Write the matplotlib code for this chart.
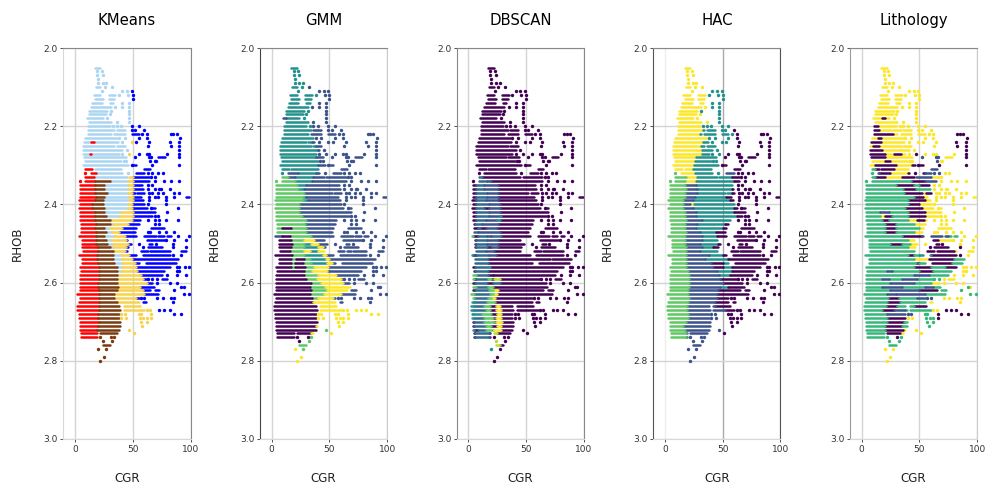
import matplotlib
matplotlib.use('Agg')
import matplotlib.pyplot as plt

# RHOB comes in steps of 0.01, every row of the crossplot is listed here
rhob = [2.05, 2.06, 2.07, 2.08, 2.09, 2.10, 2.11, 2.12, 2.13, 2.14,
        2.15, 2.16, 2.17, 2.18, 2.19, 2.20, 2.21, 2.22, 2.23, 2.24,
        2.25, 2.26, 2.27, 2.28, 2.29, 2.30, 2.31, 2.32, 2.33, 2.34,
        2.35, 2.36, 2.37, 2.38, 2.39, 2.40, 2.41, 2.42, 2.43, 2.44,
        2.45, 2.46, 2.47, 2.48, 2.49, 2.50, 2.51, 2.52, 2.53, 2.54,
        2.55, 2.56, 2.57, 2.58, 2.59, 2.60, 2.61, 2.62, 2.63, 2.64,
        2.65, 2.66, 2.67, 2.68, 2.69, 2.70, 2.71, 2.72, 2.73, 2.74,
        2.75, 2.76, 2.77, 2.78, 2.79, 2.80]

# CGR read per row: a number is one sample, a tuple is a run of touching samples
cgr = [
    [(17, 22)], [19, 23], [19, 24], [20], [20, 24, 27],
    [(18, 22), 26, 32], [23, 41, 45, 49], [(16, 22), (29, 35), 38, 46, 50], [(17, 24), (29, 34), 50], [(15, 23), (30, 33), 41, 47],
    [(14, 31), 35, 41, 47], [(12, 28), 31, 47], [(12, 27), 30, 47], [(10, 24), 28, 47], [(12, 31), 36, 47],
    [(11, 30), 33, 36, 40, 49, 55], [(11, 34), (36, 43), 49, 52, 60], [(11, 31), (34, 43), (49, 55), 58, 62, 83, 85, 88], [(9, 36), 38, 43, 55, 62, 91], [(8, 30), (31, 37), 41, 49, 53, 64, 82, 90],
    [(7, 34), (36, 43), 63, 83, 90], [(7, 41), 45, 90], [(7, 38), 41, 47, 55, 62, 64, 80, 90], [(8, 33), (34, 44), 52, 64, 66, (72, 78), 90], [(9, 40), 42, 44, 65, 69, 70],
    [(7, 46), 49, (50, 53), 67, 90], [(9, 15), (17, 40), (60, 65)], [9, (14, 41), 46, (53, 60), 63, 67, 72, 76], [(9, 45), (47, 64), 66, 69], [4, (9, 64), 69, 77, 83, 90],
    [(4, 58), 63, 67], [(4, 59), 63, 69, 73, 74, 82], [(4, 52), (54, 60), 64, 67, 72, 76, 86, 90], [(4, 57), 64, 69, 72, 79, 86, (96, 99)], [(3, 59), 64, 79],
    [(4, 60), 63, 79], [(3, 62), 66, (67, 69), 89], [(4, 64), (65, 69), 80], [(4, 67), 69, 72], [(4, 56), 63, 69, 73, 79, 89],
    [(5, 55), 69, 73], [(5, 53), (66, 77)], [(5, 52), 63, 65, 73, 79, 86], [(3, 53), (60, 70), (72, 77), (80, 83), 89, 99], [(6, 45), (62, 78), 79, 86, 96],
    [(6, 48), 55, (64, 67), 70, 85], [(6, 46), 59, (63, 75), 85, 96], [(7, 45), (57, 63), (65, 69), (70, 82), (92, 96)], [(3, 53), (59, 82), 85, 92], [(6, 71), (72, 89)],
    [(6, 55), (61, 87)], [(4, 82), 88, 90, 95, 99], [(5, 77), 88, 90], [(4, 75), 80, 88, 96], [(4, 62), 63, 67, 71, (75, 80)],
    [(4, 67), 71, 82, 88], [(4, 68), 92, 94], [(4, 65), (69, 73), 86], [(2, 72), 94, 99], [(4, 55), 57, 60, 71, 76, 83, 86],
    [(3, 55), (59, 61), 85], [(2, 38), (42, 56)], [(2, 39), (42, 60), 62, 65, 73, 77, 82], [(3, 38), 40, 43, 55, 57, 66, 86, 92], [(3, 38), 40, 44, 56, 59, 62, 66],
    [(4, 39), 57, 62], [(4, 39), 58], [(4, 38), 47], [(5, 19), (22, 36), 51], [(5, 19), 22, 31, 34],
    [24, 32], [(24, 30)], [20, 27], [], [25], [22],
]

# Cluster of each row as "end-of-band + label", left to right
kmeans_bands = [
    '48l 100b', '48l 100b', '48l 100b', '48l 100b', '48l 100b',
    '48l 100b', '48l 100b', '48l 100b', '48l 100b', '48l 100b',
    '48l 100b', '48l 100b', '48l 100b', '48l 100b', '48l 100b',
    '48l 100b', '48l 100b', '48l 100b', '48l 100b', '14l 16r 48l 50g 100b',
    '48l 100b', '48l 100b', '13l 14r 46l 48g 100b', '48l 100b', '48l 100b',
    '46l 48g 100b', '15r 48l 100b', '18r 48l 100b', '16r 46l 50g 100b', '17r 30n 46l 50g 100b',
    '17r 25n 46l 50g 100b', '17r 25n 46l 50g 100b', '17r 28n 46l 49g 100b', '18r 25n 47l 50g 100b', '17r 24n 47l 50g 100b',
    '15r 24n 46l 49g 100b', '15r 25n 46l 49g 100b', '17r 25n 40l 50g 100b', '17r 27n 38l 50g 100b', '17r 30n 31l 49g 100b',
    '18r 30n 33l 46g 100b', '17r 25n 30l 41g 100b', '18r 27n 32l 38g 100b', '18r 25n 34l 43g 100b', '18r 27n 31l 44g 100b',
    '18r 28n 33l 46g 100b', '20r 30n 33l 44g 100b', '20r 33n 34l 43g 100b', '19r 33n 40l 47g 100b', '19r 33n 41l 49g 100b',
    '20r 34n 41l 52g 100b', '21r 36n 41l 53g 100b', '21r 36n 40l 54g 100b', '21r 36n 38l 57g 100b', '21r 36n 59g 100b',
    '20r 36n 62g 100b', '20r 37n 56g 100b', '21r 36n 59g 100b', '21r 34n 60g 100b', '21r 34n 53g 100b',
    '21r 36n 56g 100b', '21r 38n 100g', '21r 39n 66g 100b', '20r 38n 68g 100b', '20r 38n 100g',
    '21r 39n 100g', '20r 39n 100g', '19r 39n 100g', '19r 36n 100g', '19r 100n',
    '100n', '100n', '100n', '100n', '100n', '100n',
]

gmm_bands = [
    '30t 100v', '30t 100v', '30t 100v', '30t 100v', '30t 100v',
    '30t 100v', '30t 100v', '40t 100v', '35t 100v', '35t 100v',
    '33t 100v', '31t 100v', '30t 100v', '12v 28t 100v', '33t 100v',
    '33t 100v', '34t 100v', '34t 100v', '36t 100v', '35t 100v',
    '38t 100v', '40t 100v', '40t 100v', '38t 100v', '40t 100v',
    '40t 100v', '40t 100v', '12t 23v 38t 100v', '14e 20v 36t 100v', '20e 35t 100v',
    '22e 30t 100v', '23e 28t 100v', '28e 100v', '27e 30t 100v', '27e 31t 100v',
    '24e 100v', '24e 100v', '24e 100v', '26e 100v', '30e 100v',
    '29e 100v', '9e 17p 30e 100v', '30e 100v', '9v 16p 34e 100v', '17p 28e 37y 100v',
    '18p 28e 34t 40y 100v', '17p 28e 40t 44y 100v', '16p 28e 33y 40t 46y 100v', '3e 18p 28e 44t 47y 100v', '17p 21e 28p 33e 47t 50y 100v',
    '17p 20e 27p 34e 48t 52y 100v', '17p 20e 29p 37e 49y 100v', '28p 35e 48y 100v', '28p 40e 56y 100v', '30p 39e 60y 100v',
    '34p 43e 62y 100v', '33p 46e 68y 100v', '34p 48e 68y 100v', '33p 45e 60y 100v', '35p 40e 53y 100v',
    '36p 56y 100v', '38p 100y', '39p 100y', '38p 100y', '38p 100y',
    '39p 100y', '38p 100y', '39p 48e 100y', '34p 100y', '32p 100e',
    '25p 100e', '100e', '21y 100e', '100e', '100y', '100y',
]

dbscan_bands = [
    '100p', '100p', '100p', '100p', '100p', '100p', '100p', '100p', '100p', '100p',
    '100p', '100p', '100p', '100p', '100p', '100p', '100p', '100p', '100p', '100p',
    '100p', '100p', '100p', '100p', '100p', '100p', '100p', '100p', '7p 12s 100p', '7p 16s 20v 100p',
    '7p 14s 26v 100p', '7p 14s 26v 100p', '7p 16s 26v 100p', '7p 16s 26v 100p', '7p 15s 26v 100p',
    '7p 18s 27v 100p', '7p 14s 18p 27v 100p', '7p 18s 27v 100p', '7p 18s 27v 28t 100p', '7p 15s 25v 27t 100p',
    '6p 12s 26v 100p', '8p 10s 15p 25v 100p', '8s 27v 100p', '4e 8p 16s 20v 28s 100p', '7p 16s 26v 100p',
    '7p 16s 26v 100p', '7p 16s 20p 26v 100p', '7p 15s 22v 100p', '4t 7p 18s 24v 100p', '6p 17s 100p',
    '6p 17s 100p', '6p 17s 19t 100p', '6p 17s 100p', '7e 17s 21p 100p', '5e 7p 17s 20e 22p 27f 100p',
    '6p 16s 21p 27s 100p', '7e 17s 21e 100p', '6p 18s 23e 26y 100p', '5e 19s 23e 25y 100p', '5e 17s 21e 23y 100p',
    '5t 16s 23e 100p', '5t 14s 19e 24p 27y 100p', '4t 15s 19e 24p 28y 100p', '4t 12t 20e 25p 28y 100p', '5t 14s 21e 24p 28y 100p',
    '5p 14s 22e 24p 29y 100p', '5p 15s 20e 25p 28y 100p', '5t 8p 15s 22e 28y 100p', '6p 18s 22p 25f 100p', '6p 18s 22p 24f 100p',
    '26f 100p', '27f 100p', '22t 100p', '100p', '100p', '100p',
]

hac_bands = [
    '100y', '100y', '100y', '100y', '100y',
    '100y', '30y 100t', '36y 100t', '35y 100t', '35y 100t',
    '35y 100t', '30y 100t', '30y 100t', '30y 100t', '37y 100t',
    '30y 58t 100p', '33y 58t 100p', '30y 58t 100p', '36y 60t 100p', '33y 58t 100p',
    '31y 58t 100p', '32y 50t 100p', '32y 52t 100p', '27y 45t 100p', '26y 50t 100p',
    '25y 48t 100p', '24y 50t 100p', '11e 26y 53t 60v 100p', '18e 28y 58t 100p', '17e 27y 60t 100p',
    '17e 27v 58t 100p', '18e 28v 58t 100p', '17e 28v 58t 100p', '17e 26v 53t 100p', '16e 24v 56t 100p',
    '16e 22v 25y 60t 100p', '16e 24v 60t 100p', '17e 27v 60t 100p', '17e 27v 62t 100p', '18e 32v 56t 100p',
    '17e 28v 52t 100p', '17e 27v 50t 100p', '18e 30v 44t 100p', '17e 32v 45t 100p', '17e 32v 46t 100p',
    '17e 30v 46t 100p', '18e 32v 42t 100p', '18e 30v 45t 47v 100p', '18e 38v 50t 100p', '18e 35v 55t 100p',
    '18e 40v 50p 58t 100p', '18e 42v 50p 58t 100p', '20e 45v 58t 100p', '21e 47v 56t 100p', '21e 48v 100p',
    '21e 50v 100p', '21e 48v 55t 100p', '20e 46v 100p', '20e 45v 100p', '21e 45v 100p',
    '20e 43v 100p', '19e 43v 100p', '19e 52v 100p', '20e 47v 100p', '20e 45v 100p',
    '18e 40v 100p', '16e 40v 100p', '17e 47v 100p', '18e 40v 100p', '18e 100v',
    '100v', '100v', '100v', '100v', '100v', '100v',
]

litho_bands = [
    '100y', '100y', '100y', '100y', '100y',
    '100y', '100y', '100y', '100y', '100y',
    '100y', '100y', '100y', '18y 20p 100y', '100y',
    '14p 100y', '15p 100y', '27p 80y 100p', '14y 17p 85y 100p', '17p 80y 100p',
    '10y 15p 80y 100p', '18p 46y 48p 85y 100p', '20p 28y 34p 44y 47p 80y 100p', '20p 46y 70v 85y 100p', '20y 25p 44y 55p 68v 100y',
    '12y 30p 44y 100p', '12h 28p 40y 55p 70v 100y', '10h 15v 25p 40y 55p 70v 100y', '12h 20p 35y 45p 60v 100y', '43h 55p 65v 100y',
    '30h 45p 50h 60p 100y', '36h 47p 60h 100y', '37h 52p 56y 60p 100y', '45h 53p 100y', '40h 55p 100y',
    '40h 50p 100y', '38h 52p 100y', '16h 24v 40h 55p 100y', '16h 20y 26p 40h 55p 100y', '18h 24p 40h 48y 54p 100y',
    '20h 30p 45h 100y', '20h 30p 50h 100y', '20h 30p 45h 100y', '35h 52p 75v 85h 100y', '40h 56y 66p 100y',
    '25h 35p 42h 60y 75p 100y', '40h 55y 85p 100y', '45h 55y 80p 100y', '40h 45p 50h 60t 85p 100y', '45h 58y 80p 100h',
    '47h 50p 60h 78p 100h', '45h 60p 72h 85p 100y', '22h 26v 50h 62p 80h 100y', '45h 58v 75h 100y', '18h 24v 35h 48v 70h 100y',
    '25h 45v 60h 100y', '18h 35v 55h 62v 70h 92h 100y', '25h 50v 65p 100h', '22h 30v 55v 100h', '23h 32p 48h 65v 100y',
    '22h 33p 55h 100y', '21h 31p 45h 60p 100y', '18h 28p 38v 60h 70y 100p', '22h 44v 62h 100p', '22h 38p 44y 62h 100p',
    '22h 37p 100h', '20h 35p 100h', '20h 36p 100y', '20h 33p 100y', '22h 33p 100h',
    '100h', '100h', '100y', '100y', '100y', '100y',
]

titles = ['KMeans', 'GMM', 'DBSCAN', 'HAC', 'Lithology']
panels = [kmeans_bands, gmm_bands, dbscan_bands, hac_bands, litho_bands]
y_ticks = [2.0, 2.2, 2.4, 2.6, 2.8, 3.0]
x_ticks = [0, 50, 100]

colors = {
    'r': '#ff0000', 'n': '#7a3a10', 'l': '#abd5f2', 'g': '#f8d24e', 'b': '#0000ff',
    'p': '#440154', 'v': '#3b528b', 's': '#31688e', 't': '#21918c', 'h': '#35b779',
    'e': '#5ec962', 'f': '#b5de2b', 'y': '#fde725',
}


def parse_bands(text):
    return [(float(tok[:-1]), tok[-1]) for tok in text.split()]


def label_at(x, bands):
    for end, label in bands:
        if x <= end:
            return label
    return bands[-1][1]


def split_run(x0, x1, bands):
    # cut one run of samples where the cluster changes
    pieces = []
    start = x0
    for end, label in bands:
        if start >= x1:
            break
        if end > start:
            pieces.append((start, min(end, x1), label))
            start = end
    return pieces


fig, axes = plt.subplots(1, 5, figsize=(9.86, 4.87), dpi=100)
fig.subplots_adjust(left=0.0644, right=0.991, top=0.9014, bottom=0.0986, wspace=0.547)

for ax, title, panel in zip(axes, titles, panels):
    lines = {}
    dots = {}
    for y, row, text in zip(rhob, cgr, panel):
        bands = parse_bands(text)
        for item in row:
            if isinstance(item, tuple):
                for a, b, label in split_run(item[0], item[1], bands):
                    lines.setdefault(label, []).append((y, a, b))
            else:
                dots.setdefault(label_at(item, bands), []).append((item, y))

    for label, segs in lines.items():
        coll = ax.hlines([s[0] for s in segs], [s[1] for s in segs], [s[2] for s in segs],
                         color=colors[label], linewidth=1.8, zorder=3)
        coll.set_capstyle('round')
    for label, pts in dots.items():
        ax.scatter([p[0] for p in pts], [p[1] for p in pts], s=6, color=colors[label],
                   linewidths=0, zorder=3)

    ax.set_xlim(-10, 100)
    ax.set_ylim(3.0, 2.0)
    ax.set_xticks(x_ticks)
    ax.set_yticks(y_ticks)
    ax.tick_params(labelsize=6.5, length=2, width=0.6, colors='#333333', pad=2)
    ax.grid(True, color='#d4d4d4', linewidth=1.0)
    ax.set_axisbelow(True)
    ax.set_title(title, fontsize=10.7, pad=16.5)
    ax.set_xlabel('CGR', fontsize=8.6, labelpad=13, color='#222222')
    ax.set_ylabel('RHOB', fontsize=8.6, labelpad=14, color='#222222')

# Spines and grid came out unevenly after the reference was scaled down
left_spines = ['#d8d8d8', '#444444', '#888888', '#555555', '#999999']
right_spines = ['#888888', '#cccccc', '#888888', '#555555', '#cccccc']
for ax, lc, rc in zip(axes, left_spines, right_spines):
    ax.spines['left'].set_color(lc)
    ax.spines['right'].set_color(rc)
    ax.spines['top'].set_color('#888888')
    ax.spines['bottom'].set_color('#d8d8d8')
axes[3].get_xgridlines()[0].set_color('#eeeeee')
axes[3].get_xgridlines()[1].set_color('#aaaaaa')

fig.savefig('out.png', dpi=100)
